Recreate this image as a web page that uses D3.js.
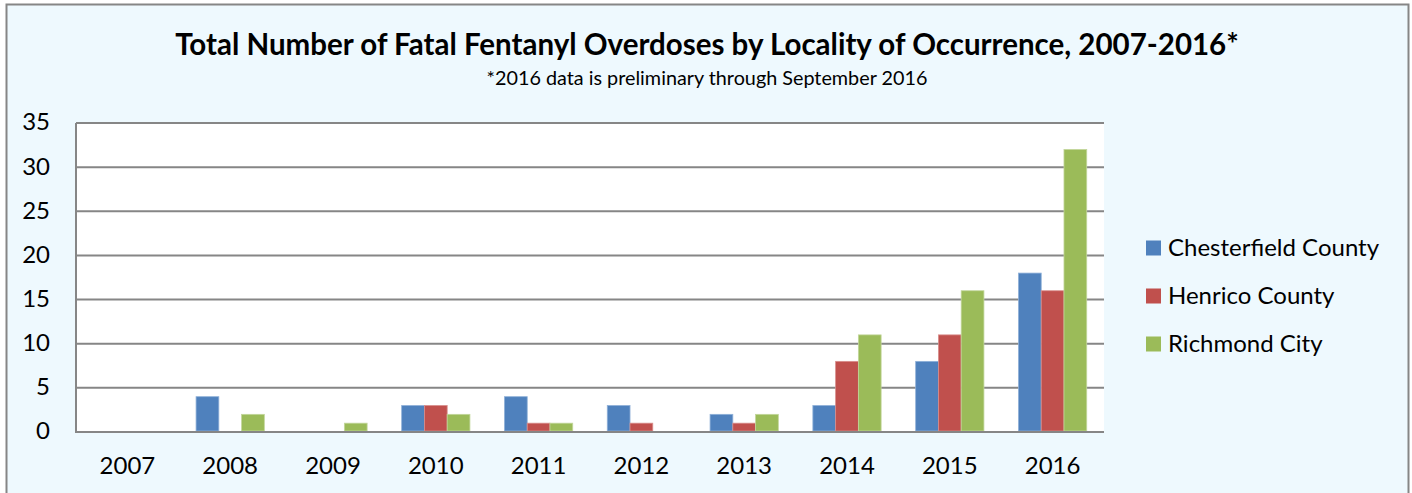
<!DOCTYPE html>
<html>
<head>
<meta charset="utf-8">
<script src="https://cdn.jsdelivr.net/npm/d3@7"></script>
<style>
  body { margin: 0; background: #fff; }
  text { font-family: Lato, "Open Sans", sans-serif; fill: #000; }
</style>
</head>
<body>
<div class="chart"></div>
<script>
var years = ["2007", "2008", "2009", "2010", "2011", "2012", "2013", "2014", "2015", "2016"];
var seriesNames = ["Chesterfield County", "Henrico County", "Richmond City"];
var chesterfield = [0, 4, 0, 3, 4, 3, 2, 3, 8, 18];
var henrico = [0, 0, 0, 3, 1, 1, 1, 8, 11, 16];
var richmond = [0, 2, 1, 2, 1, 0, 2, 11, 16, 32];
var yTicks = [0, 5, 10, 15, 20, 25, 30, 35];
var colors = ["#4F81BD", "#C0504D", "#9BBB59"];
var edges = ["#8fb0d8", "#d88e8c", "#c2d69b"];

var width = 1412, height = 493;
var plot = { top: 123, right: 1104, bottom: 432, left: 76 };

var svg = d3.select(".chart").append("svg")
  .attr("width", width)
  .attr("height", height);

// outer frame
svg.append("rect")
  .attr("x", 6.5).attr("y", 4.5)
  .attr("width", 1402).attr("height", 500)
  .style("fill", "#eef9fe")
  .style("stroke", "#868686")
  .style("stroke-width", 2);

svg.append("text")
  .attr("x", 707).attr("y", 55)
  .style("text-anchor", "middle")
  .style("font-weight", "bold")
  .style("font-size", "29.5px")
  .text("Total Number of Fatal Fentanyl Overdoses by Locality of Occurrence, 2007-2016*");

svg.append("text")
  .attr("x", 707).attr("y", 85)
  .style("text-anchor", "middle")
  .style("font-size", "19.8px")
  .text("*2016 data is preliminary through September 2016");

var x0 = d3.scaleBand().domain(years).range([plot.left, plot.right]);
var x1 = d3.scaleBand().domain(seriesNames)
  .range([0, x0.bandwidth() * 0.664]);
var y = d3.scaleLinear().domain([0, 35]).range([plot.bottom, plot.top]);

svg.append("rect")
  .attr("x", plot.left).attr("y", plot.top)
  .attr("width", plot.right - plot.left).attr("height", plot.bottom - plot.top)
  .style("fill", "#fff");

// gridlines
svg.append("g")
  .selectAll("line")
  .data(yTicks)
  .enter()
  .append("line")
  .attr("x1", plot.left).attr("x2", plot.right)
  .attr("y1", function (d) { return y(d); })
  .attr("y2", function (d) { return y(d); })
  .style("stroke", "#868686")
  .style("stroke-width", 2);

svg.append("line")
  .attr("x1", plot.left).attr("x2", plot.left)
  .attr("y1", plot.top).attr("y2", plot.bottom + 1)
  .style("stroke", "#868686")
  .style("stroke-width", 2);

var data = [chesterfield, henrico, richmond];
var groupOffset = (x0.bandwidth() - x1.range()[1]) / 2;

data.forEach(function (vals, si) {
  var rows = vals.map(function (v, i) { return { year: years[i], value: v }; })
    .filter(function (d) { return d.value > 0; });
  svg.append("g")
    .selectAll("rect")
    .data(rows)
    .enter()
    .append("rect")
    .attr("x", function (d) { return x0(d.year) + groupOffset + x1(seriesNames[si]); })
    .attr("y", function (d) { return y(d.value); })
    .attr("width", x1.bandwidth())
    .attr("height", function (d) { return y(0) - y(d.value) - 1; })
    .style("fill", colors[si])
    .style("stroke", edges[si])
    .style("stroke-width", 0.8);
});

// redraw baseline on top
svg.append("line")
  .attr("x1", plot.left).attr("x2", plot.right)
  .attr("y1", y(0)).attr("y2", y(0))
  .style("stroke", "#868686")
  .style("stroke-width", 2);

// y axis labels
svg.append("g")
  .selectAll("text")
  .data(yTicks)
  .enter()
  .append("text")
  .attr("x", 50)
  .attr("y", function (d) { return y(d) - 1; })
  .attr("dy", "0.35em")
  .style("text-anchor", "end")
  .style("font-size", "24px")
  .text(function (d) { return d; });

// x axis labels
svg.append("g")
  .selectAll("text")
  .data(years)
  .enter()
  .append("text")
  .attr("x", function (d) { return x0(d) + x0.bandwidth() / 2; })
  .attr("y", 474)
  .style("text-anchor", "middle")
  .style("font-size", "24px")
  .text(function (d) { return d; });

// legend
var legend = svg.append("g")
  .selectAll("g")
  .data(seriesNames)
  .enter()
  .append("g")
  .attr("transform", function (d, i) { return "translate(1146," + (248 + i * 48) + ")"; });

legend.append("rect")
  .attr("x", 0).attr("y", -7.5)
  .attr("width", 15).attr("height", 15)
  .style("fill", function (d, i) { return colors[i]; });

legend.append("text")
  .attr("x", 22).attr("y", 0)
  .attr("dy", "0.35em")
  .style("font-size", "24px")
  .text(function (d) { return d; });
</script>
</body>
</html>
